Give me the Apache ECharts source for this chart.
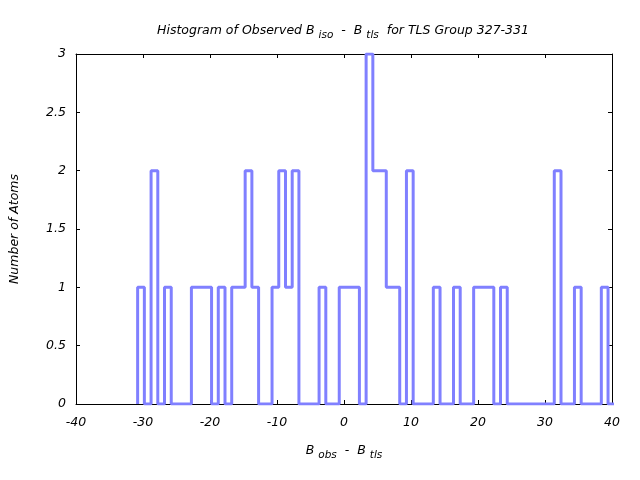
<!DOCTYPE html>
<html>
<head>
<meta charset="utf-8">
<script src="https://cdn.jsdelivr.net/npm/echarts@6/dist/echarts.min.js"></script>
<style>html,body{margin:0;padding:0;background:#fff}#c{width:640px;height:480px}</style>
</head>
<body>
<div id="c"></div>
<script>
// Histogram bins
const binStart = -30.8;
const binWidth = 1.003;
const counts = [1,0,2,0,1, 0,0,0,1,1, 1,0,1,0,1, 1,2,1,0,0, 1,2,1,2,0, 0,0,1,0,0,
                1,1,1,0,3, 2,2,1,1,0, 2,0,0,0,1, 0,0,1,0,0, 1,1,1,0,1, 0,0,0,0,0,
                0,0,2,0,0, 1,0,0,0,1, 0];
const xTicks = [-40, -30, -20, -10, 0, 10, 20, 30, 40];
const yTicks = [0, 0.5, 1, 1.5, 2, 2.5, 3];

const stepData = [[binStart, 0]];
counts.forEach((c, k) => stepData.push([binStart + k * binWidth, c]));
stepData.push([binStart + counts.length * binWidth, 0]);

const FONT = 'DejaVu Sans';
const rich = {
  m: { fontFamily: FONT, fontStyle: 'italic', fontSize: 12.5, color: '#000', lineHeight: 20, verticalAlign: 'middle' },
  s: { fontFamily: FONT, fontStyle: 'italic', fontSize: 10.5, color: '#000', lineHeight: 10, verticalAlign: 'bottom' }
};

const chart = echarts.init(document.getElementById('c'), null, { renderer: 'canvas' });
const axisCommon = {
  type: 'value',
  axisLine: { show: true, onZero: false, lineStyle: { color: '#000', width: 1 } },
  axisTick: { show: true, inside: true, length: 4, lineStyle: { color: '#000' } },
  splitLine: { show: false }
};
chart.setOption({
  animation: false,
  backgroundColor: '#fff',
  title: {
    text: '{m|Histogram of Observed B }{s|iso}{m|  -  B }{s|tls}{m|  for TLS Group 327-331}',
    left: 338, top: 16, textAlign: 'center',
    textStyle: { rich: rich, fontFamily: FONT, fontStyle: 'italic', fontSize: 12.5, fontWeight: 'normal' }
  },
  grid: { left: 76, right: 28, top: 54, bottom: 76 },
  xAxis: [
    Object.assign({}, axisCommon, {
      position: 'bottom', min: xTicks[0], max: xTicks[xTicks.length - 1], interval: 10,
      axisLabel: { show: true, margin: 12, fontFamily: FONT, fontStyle: 'italic', fontSize: 12.5, color: '#000' },
      name: '{m|B }{s|obs}{m|  -  B }{s|tls}', nameLocation: 'middle', nameGap: 37,
      nameTextStyle: { rich: rich }
    }),
    Object.assign({}, axisCommon, {
      position: 'top', min: xTicks[0], max: xTicks[xTicks.length - 1], interval: 10,
      axisLabel: { show: false }
    })
  ],
  yAxis: [
    Object.assign({}, axisCommon, {
      position: 'left', min: yTicks[0], max: yTicks[yTicks.length - 1], interval: 0.5,
      axisLabel: { show: true, margin: 10, fontFamily: FONT, fontStyle: 'italic', fontSize: 12.5, color: '#000' },
      name: 'Number of Atoms', nameLocation: 'middle', nameGap: 55,
      nameTextStyle: { fontFamily: FONT, fontStyle: 'italic', fontSize: 12.5, color: '#000' }
    }),
    Object.assign({}, axisCommon, {
      position: 'right', min: yTicks[0], max: yTicks[yTicks.length - 1], interval: 0.5,
      axisLabel: { show: false }
    })
  ],
  series: [{
    type: 'line',
    step: 'end',
    data: stepData,
    showSymbol: false,
    symbol: 'none',
    clip: true,
    lineStyle: { color: '#8080ff', width: 3 },
    z: 5
  }]
});
</script>
</body>
</html>
